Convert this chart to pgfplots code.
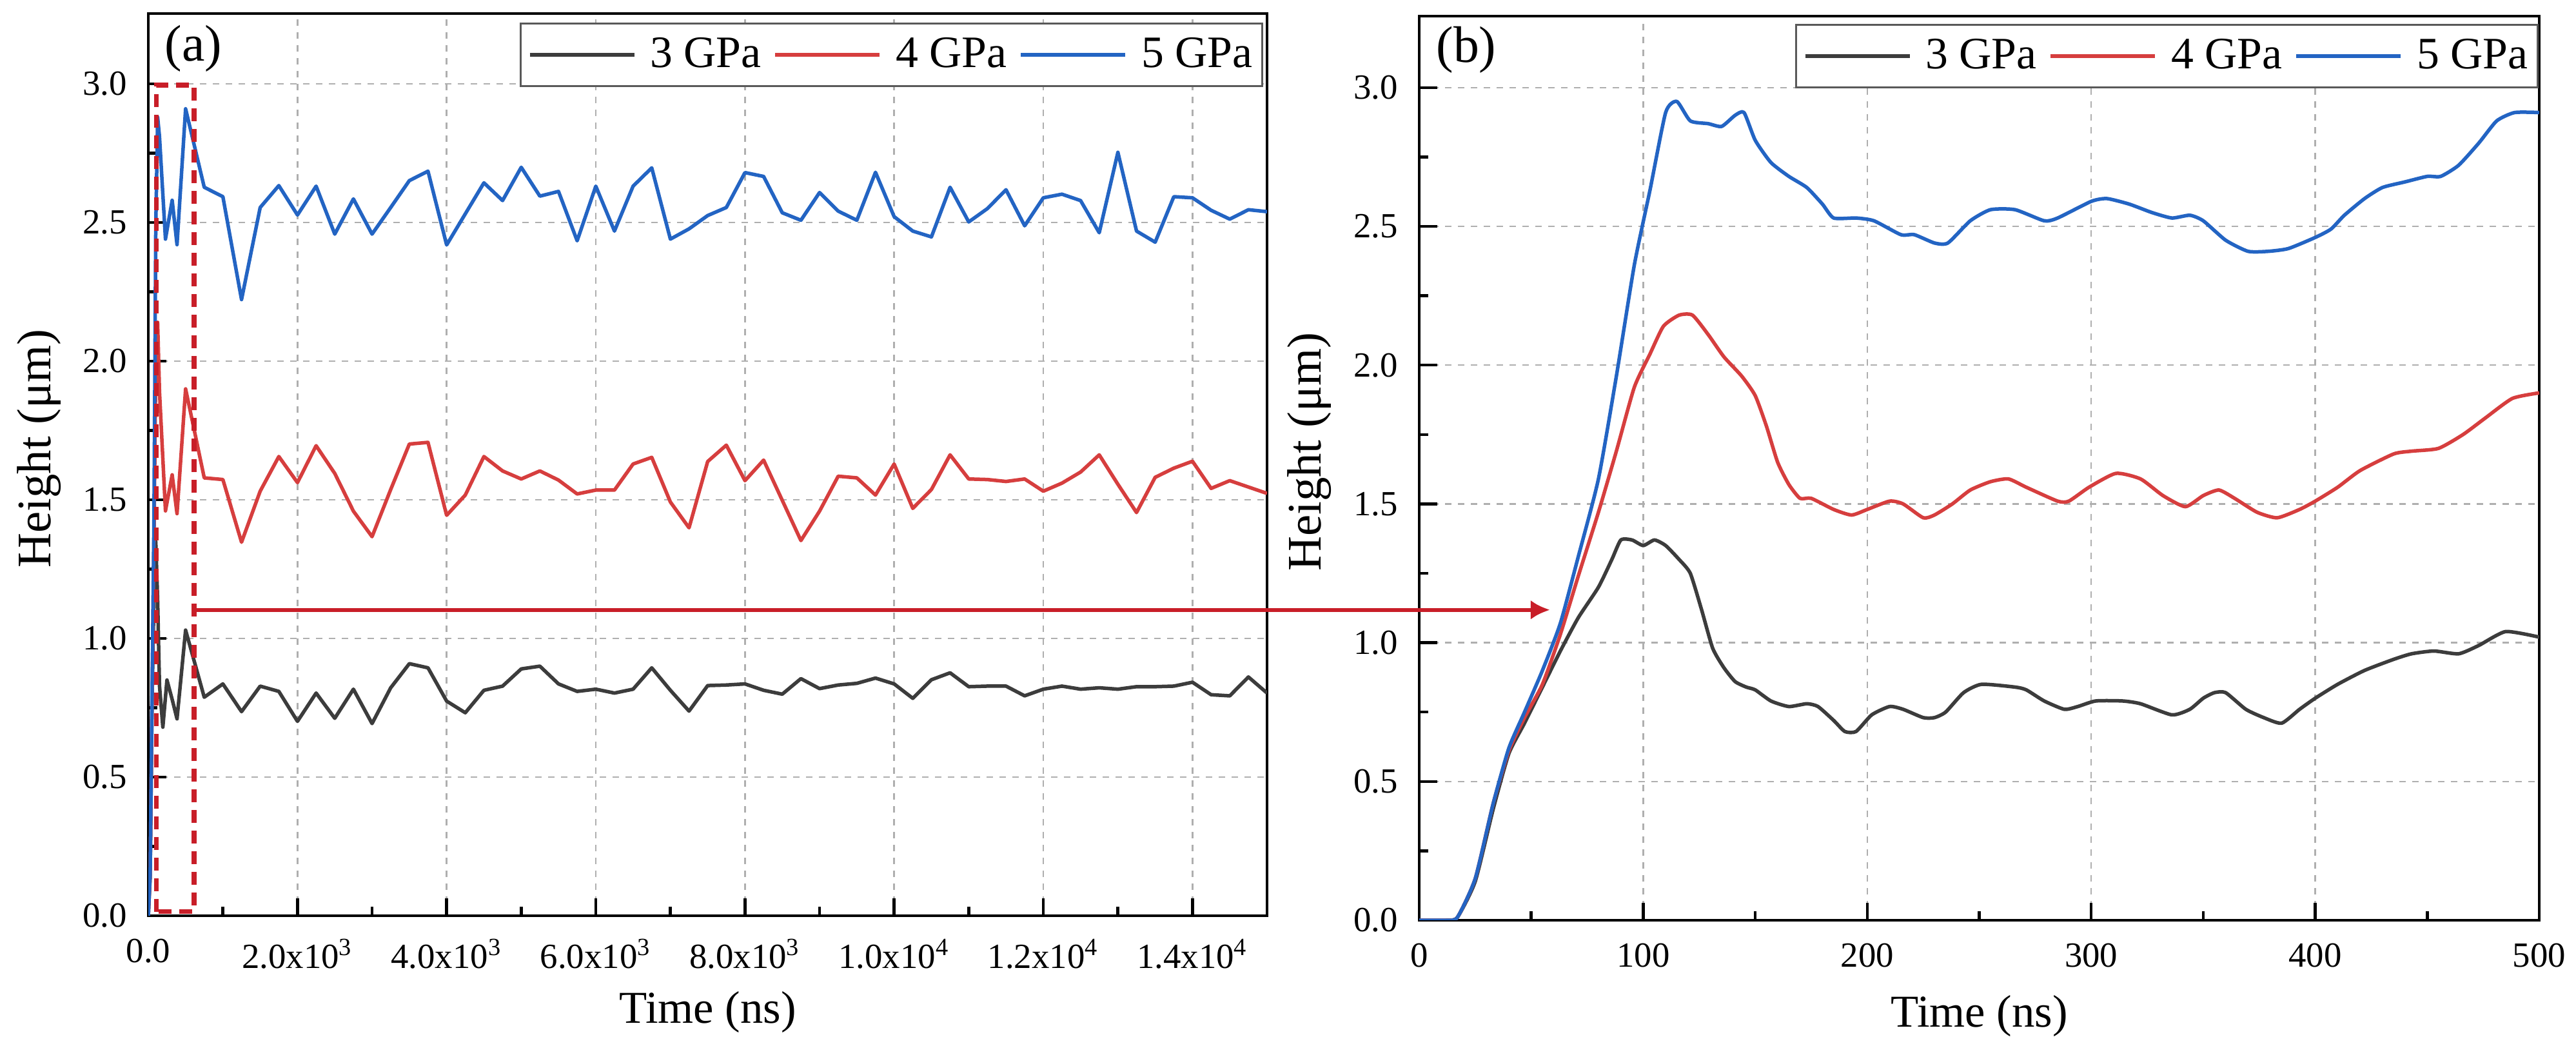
\documentclass[border=0pt]{standalone}
\usepackage{fontspec}
\setmainfont{Liberation Serif}
\usepackage{pgfplots}
\pgfplotsset{compat=1.18}
\usetikzlibrary{arrows.meta}
\definecolor{cA}{RGB}{60,60,60}
\definecolor{cB}{RGB}{214,62,62}
\definecolor{cC}{RGB}{35,100,195}
\definecolor{cR}{RGB}{200,30,40}
\definecolor{gridc}{RGB}{175,175,175}
\pgfplotsset{
 myaxis/.style={
  scale only axis, anchor=south west,
  axis line style={line width=0.9bp},
  tick align=inside, xtick pos=left, ytick pos=left,
  major tick length=5.5bp, minor tick length=2.8bp,
  tick style={black, line width=0.9bp},
  grid=major,
  major grid style={gridc, line width=0.5bp, dash pattern=on 2bp off 2bp},
  ymin=0,
  ytick={0,0.5,1,1.5,2,2.5,3},
  minor ytick={0.25,0.75,1.25,1.75,2.25,2.75},
  ticklabel style={font=\fontsize{11}{13}\selectfont},
  yticklabel style={xshift=-3.1bp, /pgf/number format/fixed, /pgf/number format/fixed zerofill, /pgf/number format/precision=1},
  xticklabel style={yshift=-3.7bp},
  /pgf/number format/assume math mode=true,
  xlabel style={font=\fontsize{14.2}{16}\selectfont},
  ylabel style={font=\fontsize{15}{17}\selectfont},
  ylabel={Height (μm)},
  xlabel={Time (ns)},
  legend columns=3,
  legend image code/.code={\draw[##1] (0bp,0bp) -- (32.4bp,0bp);},
  legend style={draw=black!65, line width=0.6bp, font=\fontsize{14}{16}\selectfont,
    inner xsep=2.2bp, inner ysep=2.3bp, nodes={inner xsep=0.8bp, inner ysep=2bp},
    anchor=north east,
    /tikz/every odd column/.append style={column sep=3.6bp},
    /tikz/every even column/.append style={column sep=3.0bp}},
  every axis plot/.append style={line width=1.1bp, line join=round},
 }
}
\begin{document}
\begin{tikzpicture}
\path[use as bounding box] (0,0) rectangle (799bp,324.4bp);
% ---------------- panel (a)
\begin{axis}[myaxis, at={(46bp,40.4bp)}, width=347bp, height=279.8bp,
 xmin=0, xmax=15000, ymax=3.2535,
 xtick={0,2000,4000,6000,8000,10000,12000,14000},
 xticklabels={0.0, 2.0x10\textsuperscript{3}, 4.0x10\textsuperscript{3}, 6.0x10\textsuperscript{3}, 8.0x10\textsuperscript{3}, 1.0x10\textsuperscript{4}, 1.2x10\textsuperscript{4}, 1.4x10\textsuperscript{4}},
 minor xtick={1000,3000,5000,7000,9000,11000,13000},
 scaled x ticks=false,
 ylabel style={at={(axis description cs:-0.0974,0.518)}, anchor=center},
 xlabel style={at={(axis description cs:0.5,-0.107)}, anchor=center},
 legend style={at={(axis description cs:1,1)}, xshift=-1.2bp, yshift=-2.8bp},
]
\addplot[cA] coordinates {
(0,0)(25,0.14)(50,0.77)(75,1.13)(100,1.35)(125,1.14)(150,0.83)(195,0.68)(250,0.85)(320,0.78)(385,0.71)(500,1.03)
(750,0.788)(1000,0.836)(1250,0.736)(1500,0.828)(1750,0.809)(2000,0.701)(2250,0.803)(2500,0.712)(2750,0.817)(3000,0.693)
(3250,0.822)(3500,0.909)(3750,0.894)(4000,0.774)(4250,0.732)(4500,0.813)(4750,0.828)(5000,0.890)(5250,0.900)(5500,0.836)
(5750,0.809)(6000,0.817)(6250,0.803)(6500,0.817)(6750,0.894)(7000,0.813)(7250,0.738)(7500,0.830)(7750,0.832)(8000,0.836)
(8250,0.813)(8500,0.799)(8750,0.855)(9000,0.819)(9250,0.832)(9500,0.838)(9750,0.857)(10000,0.836)(10250,0.784)(10500,0.851)
(10750,0.876)(11000,0.826)(11250,0.828)(11500,0.828)(11750,0.793)(12000,0.817)(12250,0.828)(12500,0.817)(12750,0.822)(13000,0.817)
(13250,0.826)(13500,0.826)(13750,0.828)(14000,0.842)(14250,0.797)(14500,0.793)(14750,0.861)(15000,0.803)
};
\addlegendentry{3 GPa}
\addplot[cB] coordinates {
(0,0)(25,0.15)(50,0.78)(75,1.33)(100,1.98)(125,2.14)(150,1.89)(230,1.46)(320,1.59)(385,1.45)(500,1.90)
(750,1.579)(1000,1.573)(1250,1.347)(1500,1.531)(1750,1.656)(2000,1.562)(2250,1.695)(2500,1.595)(2750,1.459)(3000,1.367)
(3250,1.537)(3500,1.701)(3750,1.707)(4000,1.444)(4250,1.517)(4500,1.656)(4750,1.604)(5000,1.575)(5250,1.604)(5500,1.571)
(5750,1.521)(6000,1.535)(6250,1.535)(6500,1.629)(6750,1.653)(7000,1.492)(7250,1.399)(7500,1.638)(7750,1.697)(8000,1.569)
(8250,1.643)(8500,1.498)(8750,1.353)(9000,1.459)(9250,1.585)(9500,1.579)(9750,1.517)(10000,1.629)(10250,1.469)(10500,1.537)
(10750,1.662)(11000,1.575)(11250,1.573)(11500,1.566)(11750,1.575)(12000,1.531)(12250,1.560)(12500,1.600)(12750,1.662)(13000,1.556)
(13250,1.454)(13500,1.581)(13750,1.614)(14000,1.639)(14250,1.541)(14500,1.569)(14750,1.546)(15000,1.523)
};
\addlegendentry{4 GPa}
\addplot[cC] coordinates {
(0,0)(25,0.15)(50,0.80)(75,1.40)(100,2.48)(125,2.88)(150,2.81)(230,2.44)(320,2.58)(385,2.42)(500,2.91)
(750,2.627)(1000,2.593)(1250,2.222)(1500,2.554)(1750,2.633)(2000,2.527)(2250,2.631)(2500,2.458)(2750,2.585)(3000,2.458)
(3250,2.554)(3500,2.651)(3750,2.685)(4000,2.419)(4250,2.531)(4500,2.643)(4750,2.579)(5000,2.699)(5250,2.595)(5500,2.612)
(5750,2.434)(6000,2.631)(6250,2.469)(6500,2.631)(6750,2.697)(7000,2.440)(7250,2.477)(7500,2.525)(7750,2.554)(8000,2.680)
(8250,2.666)(8500,2.535)(8750,2.508)(9000,2.608)(9250,2.541)(9500,2.508)(9750,2.681)(10000,2.521)(10250,2.469)(10500,2.448)
(10750,2.627)(11000,2.502)(11250,2.550)(11500,2.618)(11750,2.488)(12000,2.589)(12250,2.602)(12500,2.579)(12750,2.463)(13000,2.753)
(13250,2.469)(13500,2.429)(13750,2.593)(14000,2.589)(14250,2.544)(14500,2.512)(14750,2.546)(15000,2.539)
};
\addlegendentry{5 GPa}
\draw[cR, line width=1.5bp, dash pattern=on 4bp off 2.4bp] (axis cs:110,0.015) rectangle (axis cs:615,2.995);
\coordinate (pA) at (axis cs:615,1.103);
\end{axis}
% ---------------- panel (b)
\begin{axis}[myaxis, at={(440.2bp,39bp)}, width=347.4bp, height=280.4bp,
 xmin=0, xmax=500, ymax=3.2574,
 xtick={0,100,200,300,400,500},
 minor xtick={50,150,250,350,450},
 ylabel style={at={(axis description cs:-0.0979,0.518)}, anchor=center},
 xlabel style={at={(axis description cs:0.5,-0.106)}, anchor=center},
 legend style={at={(axis description cs:1,1)}, xshift=-0.2bp, yshift=-2.4bp},
]
\addplot[cA, smooth, tension=0.35] coordinates {
(0,0)(12,0)(17,0.01)(25,0.14)(33,0.40)(40,0.60)(47,0.71)(55,0.84)(63,0.97)(71,1.09)(80,1.20)(86,1.30)(90,1.37)(95,1.37)
(100,1.35)(105,1.37)(110,1.35)(116,1.30)(121,1.25)(126,1.12)(131,0.98)(136,0.91)(141,0.86)(146,0.84)(150,0.83)(157,0.79)
(165,0.77)(173,0.78)(178,0.77)(185,0.72)(190,0.68)(195,0.68)(202,0.74)(210,0.77)(216,0.76)(225,0.73)(230,0.73)(235,0.75)
(243,0.82)(251,0.85)(266,0.84)(271,0.83)(279,0.79)(288,0.76)(294,0.77)(302,0.79)(314,0.79)(322,0.78)(336,0.74)(344,0.76)
(350,0.80)(355,0.82)(360,0.82)(369,0.76)(377,0.73)(385,0.71)(393,0.76)(400,0.80)(410,0.85)(422,0.90)(435,0.94)(443,0.96)
(453,0.97)(464,0.96)(473,0.99)(485,1.04)(500,1.02)
};
\addlegendentry{3 GPa}
\addplot[cB, smooth, tension=0.35] coordinates {
(0,0)(12,0)(17,0.01)(25,0.15)(33,0.42)(40,0.61)(47,0.73)(55,0.85)(63,1.03)(71,1.24)(80,1.47)(88,1.69)(96,1.92)(103,2.04)
(109,2.14)(116,2.18)(122,2.18)(129,2.11)(136,2.03)(144,1.96)(150,1.89)(155,1.78)(160,1.65)(165,1.57)(170,1.52)(175,1.52)
(185,1.48)(193,1.46)(200,1.48)(210,1.51)(216,1.50)(225,1.45)(230,1.46)(238,1.50)(246,1.55)(255,1.58)(263,1.59)(271,1.56)
(285,1.51)(290,1.51)(299,1.56)(311,1.61)(322,1.59)(332,1.53)(342,1.49)(350,1.53)(357,1.55)(364,1.52)(374,1.47)(383,1.45)
(393,1.48)(400,1.51)(410,1.56)(420,1.62)(435,1.68)(443,1.69)(455,1.70)(466,1.75)(476,1.81)(488,1.88)(500,1.90)
};
\addlegendentry{4 GPa}
\addplot[cC, smooth, tension=0.35] coordinates {
(0,0)(12,0)(17,0.01)(25,0.15)(33,0.42)(40,0.62)(47,0.75)(55,0.90)(63,1.07)(71,1.31)(80,1.59)(88,1.96)(96,2.36)(103,2.63)
(110,2.91)(115,2.95)(121,2.88)(129,2.87)(135,2.86)(141,2.90)(145,2.91)(150,2.81)(157,2.73)(165,2.68)(173,2.64)(180,2.58)
(185,2.53)(195,2.53)(203,2.52)(215,2.47)(221,2.47)(230,2.44)(236,2.44)(246,2.52)(255,2.56)(266,2.56)(279,2.52)(285,2.53)
(300,2.59)(307,2.60)(317,2.58)(327,2.55)(336,2.53)(344,2.54)(350,2.52)(360,2.45)(370,2.41)(379,2.41)(388,2.42)(400,2.46)
(407,2.49)(413,2.54)(422,2.60)(430,2.64)(440,2.66)(450,2.68)(456,2.68)(464,2.72)(473,2.80)(481,2.88)(489,2.91)(500,2.91)
};
\addlegendentry{5 GPa}
\coordinate (pB) at (axis cs:58.4,1.12);
\end{axis}
\draw[cR, line width=1.2bp, -{Latex[length=6bp,width=6bp]}] (pA) -- (pA -| pB);
\node[font=\fontsize{16}{18}\selectfont] at (60bp,309.4bp) {(a)};
\node[font=\fontsize{16}{18}\selectfont] at (454.8bp,309bp) {(b)};
\end{tikzpicture}
\end{document}
